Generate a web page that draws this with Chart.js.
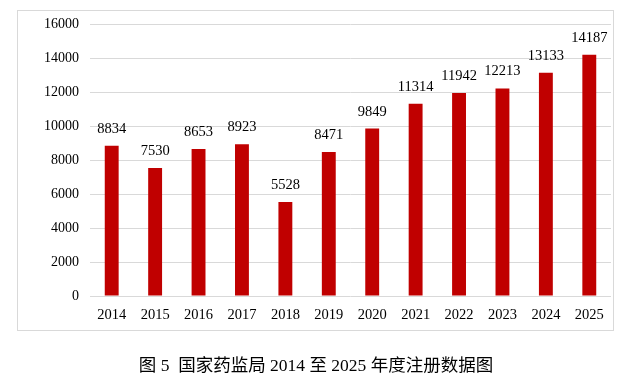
<!DOCTYPE html>
<html>
<head>
<meta charset="utf-8">
<script src="https://cdn.jsdelivr.net/npm/chart.js@4/dist/chart.umd.min.js"></script>
<style>
html,body{margin:0;padding:0;background:#fff;}
#wrap{width:634px;height:381px;position:relative;}
</style>
</head>
<body>
<div id="wrap"><canvas id="c" width="634" height="381"></canvas></div>
<script>
const years = ['2014','2015','2016','2017','2018','2019','2020','2021','2022','2023','2024','2025'];
const registrations = [8834, 7530, 8653, 8923, 5528, 8471, 9849, 11314, 11942, 12213, 13133, 14187];
const yTicks = [0, 2000, 4000, 6000, 8000, 10000, 12000, 14000, 16000];
const caption = '图 5  国家药监局 2014 至 2025 年度注册数据图';

const SERIF = '"Liberation Serif", "Times New Roman", "Noto Sans CJK SC", serif';

const decor = {
  id: 'decor',
  beforeDraw(chart) {
    const ctx = chart.ctx;
    ctx.save();
    ctx.fillStyle = '#fff';
    ctx.fillRect(0, 0, chart.width, chart.height);
    ctx.strokeStyle = '#d9d9d9';
    ctx.lineWidth = 1;
    ctx.strokeRect(17.5, 10.5, 596, 320);
    ctx.restore();
  },
  afterDatasetsDraw(chart) {
    const ctx = chart.ctx;
    const meta = chart.getDatasetMeta(0);
    ctx.save();
    ctx.font = '14.5px ' + SERIF;
    ctx.fillStyle = '#000';
    ctx.textAlign = 'center';
    ctx.textBaseline = 'alphabetic';
    meta.data.forEach((bar, i) => {
      ctx.fillText(String(chart.data.datasets[0].data[i]), bar.x, bar.y - 13);
    });
    ctx.font = '17.5px ' + SERIF;
    ctx.textBaseline = 'middle';
    ctx.fillText(caption, 316, 366);
    ctx.restore();
  }
};

new Chart(document.getElementById('c'), {
  type: 'bar',
  data: {
    labels: years,
    datasets: [{
      data: registrations,
      backgroundColor: '#C00000',
      borderWidth: 0,
      categoryPercentage: 1,
      barPercentage: 0.32
    }]
  },
  options: {
    responsive: false,
    animation: false,
    devicePixelRatio: 1,
    layout: { padding: { left: 0, right: 23, top: 24, bottom: 55 } },
    plugins: { legend: { display: false }, tooltip: { enabled: false }, title: { display: false } },
    scales: {
      x: {
        grid: { display: false, drawTicks: false },
        border: { display: false },
        ticks: { color: '#000', font: { family: SERIF, size: 14.5 }, padding: 10, maxRotation: 0 },
        afterFit(s) { s.height = 30; }
      },
      y: {
        min: 0, max: 16000,
        afterBuildTicks(s) { s.ticks = yTicks.map(v => ({ value: v })); },
        grid: { color: '#d9d9d9', drawTicks: false, lineWidth: 1 },
        border: { display: false },
        ticks: { color: '#000', font: { family: SERIF, size: 14 }, padding: 11, callback: v => String(v) },
        afterFit(s) { s.width = 90; }
      }
    }
  },
  plugins: [decor]
});
</script>
</body>
</html>
